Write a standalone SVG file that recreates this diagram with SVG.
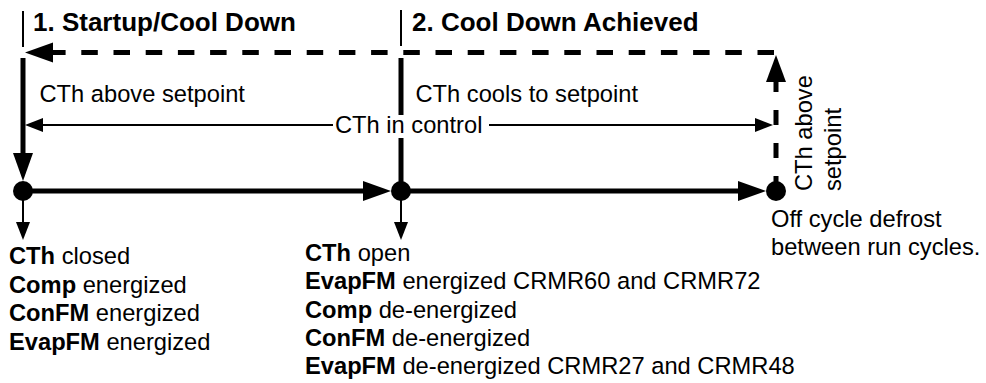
<svg xmlns="http://www.w3.org/2000/svg" width="986" height="383" viewBox="0 0 986 383">
<style>
text{font-family:"Liberation Sans",Arial,Helvetica,sans-serif;font-size:23.7px;fill:#000}
.h{font-weight:bold;font-size:26px}
.b{font-weight:bold}
.thick{stroke:#000;stroke-width:5;fill:none}
.thin{stroke:#000;stroke-width:2;fill:none}
.tick{stroke:#000;stroke-width:2;fill:none}
.dash{stroke:#000;stroke-width:5;fill:none;stroke-dasharray:16.5 15.7}
.vdash{stroke:#000;stroke-width:5;fill:none;stroke-dasharray:15 18}
.ah{fill:#000;stroke:none}
.dot{fill:#000}
</style>
<rect width="986" height="383" fill="#fff"/>
<g id="connectors">
<line class="tick" x1="23" y1="11" x2="23" y2="47"/>
<line class="tick" x1="401" y1="10" x2="401" y2="46"/>
<path class="dash" d="M774,52.5 L50,52.5"/>
<polygon class="ah" points="25,52.5 53,42.5 53,62.5"/>
<path class="vdash" d="M776,191 L776,80"/>
<polygon class="ah" points="776,55 766,82 786,82"/>
<line class="thick" x1="23" y1="58" x2="23" y2="156"/>
<polygon class="ah" points="23,181 13,153 33,153"/>
<line class="thick" x1="401" y1="58" x2="401" y2="115"/>
<line class="thick" x1="401" y1="138" x2="401" y2="191"/>
<line class="thin" x1="41" y1="125" x2="333" y2="125"/>
<line class="thin" x1="489" y1="125" x2="757" y2="125"/>
<polygon class="ah" points="25,125 43,118 43,132"/>
<polygon class="ah" points="773,125 755,118 755,132"/>
<line class="thick" x1="23" y1="191" x2="366" y2="191"/>
<polygon class="ah" points="391,191 363,181 363,201"/>
<line class="thick" x1="401" y1="191" x2="741" y2="191"/>
<polygon class="ah" points="766,191 738,181 738,201"/>
<line class="thin" x1="23" y1="191" x2="23" y2="224"/>
<polygon class="ah" points="23,240 16,222 30,222"/>
<line class="thin" x1="401" y1="191" x2="401" y2="224"/>
<polygon class="ah" points="401,240 394,222 408,222"/>
</g>
<g id="phase1">
<text class="h" x="33" y="31">1. Startup/Cool Down</text>
</g>
<g id="phase2">
<text class="h" x="412" y="31">2. Cool Down Achieved</text>
</g>
<g id="label-above">
<text x="39.5" y="102">CTh above setpoint</text>
</g>
<g id="label-cools">
<text x="415.5" y="102">CTh cools to setpoint</text>
</g>
<g id="label-control">
<text x="335" y="133">CTh in control</text>
</g>
<g id="label-vertical">
<text transform="translate(812,191) rotate(-90)"><tspan x="0" y="0">CTh above</tspan><tspan x="0" y="29">setpoint</tspan></text>
</g>
<g id="node1">
<circle class="dot" cx="23" cy="191" r="10"/>
<text x="9" y="264"><tspan class="b">CTh</tspan> closed</text>
<text x="9" y="292.5"><tspan class="b">Comp</tspan> energized</text>
<text x="9" y="321"><tspan class="b">ConFM</tspan> energized</text>
<text x="9" y="349.5"><tspan class="b">EvapFM</tspan> energized</text>
</g>
<g id="node2">
<circle class="dot" cx="401" cy="191" r="10"/>
<text x="305" y="261"><tspan class="b">CTh</tspan> open</text>
<text x="305" y="289.3"><tspan class="b">EvapFM</tspan> energized CRMR60 and CRMR72</text>
<text x="305" y="317.7"><tspan class="b">Comp</tspan> de-energized</text>
<text x="305" y="346"><tspan class="b">ConFM</tspan> de-energized</text>
<text x="305" y="374.3"><tspan class="b">EvapFM</tspan> de-energized CRMR27 and CRMR48</text>
</g>
<g id="node3">
<circle class="dot" cx="776" cy="191" r="10"/>
<text x="771" y="226.7">Off cycle defrost</text>
<text x="771" y="255">between run cycles.</text>
</g>
</svg>
